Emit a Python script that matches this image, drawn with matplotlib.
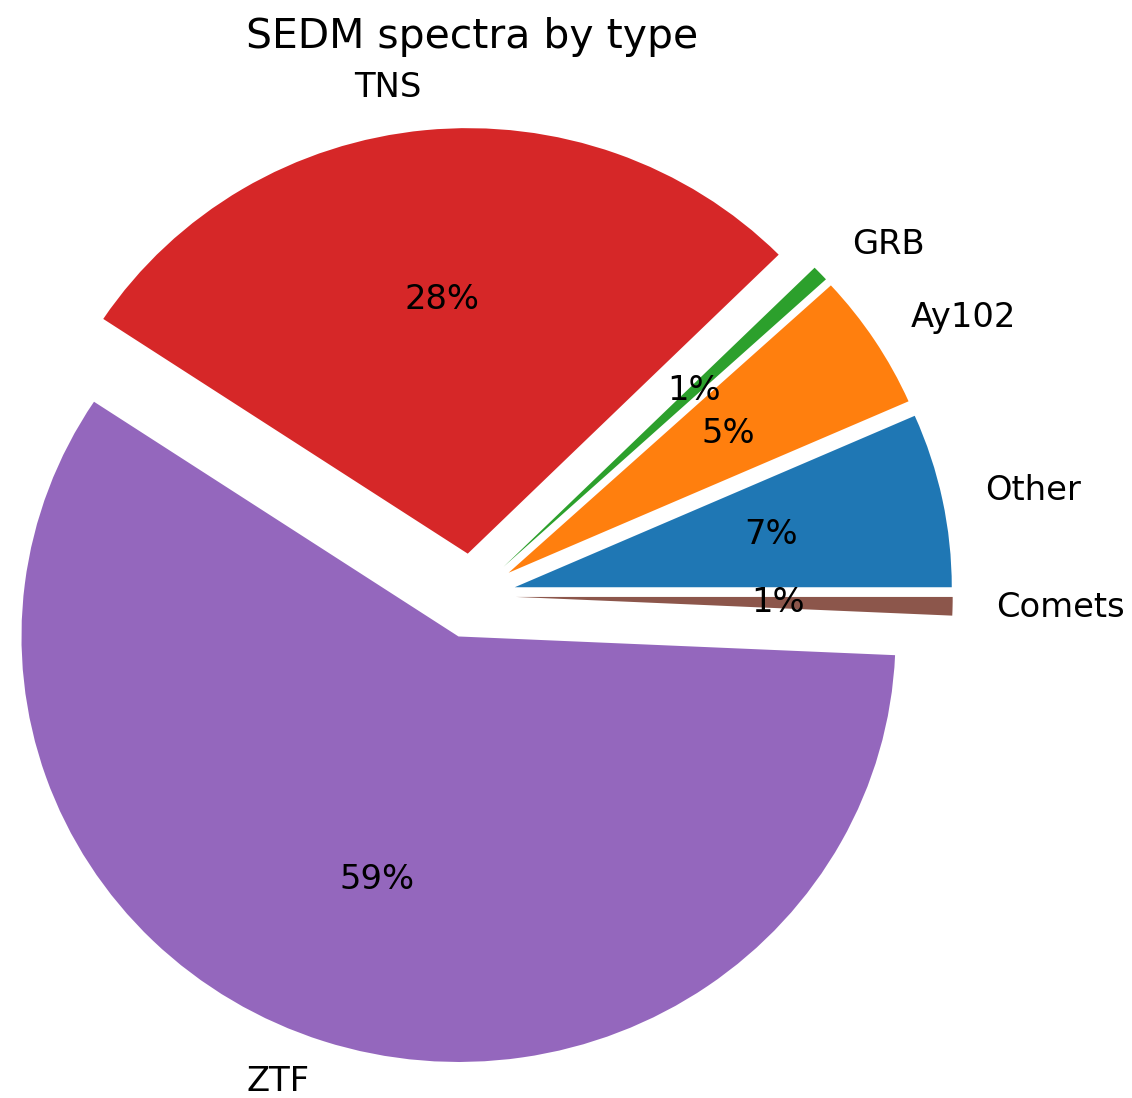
import matplotlib
matplotlib.use("Agg")
import matplotlib.pyplot as plt

labels = ["Other", "Ay102", "GRB", "TNS", "ZTF", "Comets"]
counts = [66, 52, 6, 283, 586, 7]
explode = [0.1, 0.1, 0.1, 0.1, 0.1, 0.1]
colors = ["#1f77b4", "#ff7f0e", "#2ca02c", "#d62728", "#9467bd", "#8c564b"]

W, H = 1132, 1098
fig = plt.figure(figsize=(W / 100, H / 100), dpi=100)
ax = fig.add_axes([0, 0, 1, 1])

ax.pie(counts, labels=labels, explode=explode, colors=colors,
       autopct="%1.0f%%", startangle=0,
       textprops={"fontsize": 24.3})

# pie centre at pixel (472, 596); radius ~437 px horizontally, ~425.5 px vertically
cx, cy, rx, ry = 472, 596, 437, 425.5
ax.set_aspect("auto")
ax.set_xlim(-cx / rx, (W - cx) / rx)
ax.set_ylim(-(H - cy) / ry, cy / ry)
ax.axis("off")

fig.text(cx / W, 1 - 37 / H, "SEDM spectra by type", ha="center", va="center",
         fontsize=29.4)

fig.savefig("out.png", dpi=100)
